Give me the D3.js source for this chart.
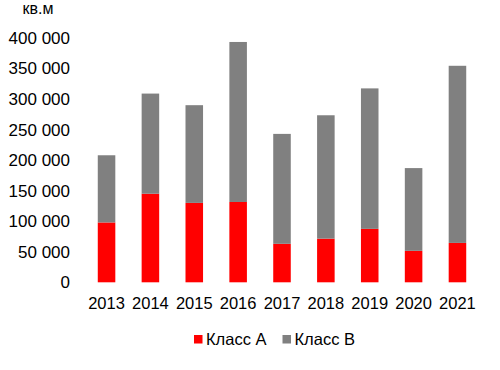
<!DOCTYPE html>
<html>
<head>
<meta charset="utf-8">
<script src="https://cdn.jsdelivr.net/npm/d3@7"></script>
<style>
  body { margin: 0; background: #fff; }
  text { font-family: "Liberation Sans", Arial, sans-serif; fill: #000; }
</style>
</head>
<body>
<script>
const years = ['2013', '2014', '2015', '2016', '2017', '2018', '2019', '2020', '2021'];
const classA = [98000, 145000, 130000, 131500, 63000, 71500, 87500, 51500, 64500];
const classB = [110000, 164000, 160000, 262000, 180000, 202000, 230000, 135500, 290000];
const yTicks = [0, 50000, 100000, 150000, 200000, 250000, 300000, 350000, 400000];
const seriesNames = ['Класс А', 'Класс В'];
const seriesColors = ['#ff0000', '#808080'];

const width = 500;
const height = 370;

const svg = d3.select('body').append('svg').attr('width', width).attr('height', height);

const x = d3.scaleBand().domain(years).range([89, 475]).paddingInner(0.6).paddingOuter(0.2);
const y = d3.scaleLinear().domain([0, 400000]).range([282.3, 38]);

const rows = years.map((yr, i) => ({ year: yr, a: classA[i], b: classB[i] }));
const stacked = d3.stack().keys(['a', 'b'])(rows);

svg.selectAll('g.series').data(stacked).enter().append('g').classed('series', true)
    .attr('fill', (d, i) => seriesColors[i])
    .selectAll('rect').data(d => d).enter().append('rect')
    .attr('x', d => x(d.data.year))
    .attr('width', x.bandwidth())
    .attr('y', d => y(d[1]))
    .attr('height', d => y(d[0]) - y(d[1]));

// y axis labels
const fmt = v => d3.format(',')(v).replace(/,/g, ' ');
svg.selectAll('text.ytick').data(yTicks).enter().append('text').classed('ytick', true)
    .attr('x', 70).attr('y', d => y(d)).attr('dy', '0.35em')
    .style('text-anchor', 'end').style('font-size', '17px')
    .text(fmt);

// x axis labels
svg.selectAll('text.xtick').data(years).enter().append('text').classed('xtick', true)
    .attr('x', d => x(d) + x.bandwidth() / 2).attr('y', 308.5)
    .style('text-anchor', 'middle').style('font-size', '16.5px')
    .text(d => d);

// unit label
svg.append('text').attr('x', 38).attr('y', 14).style('text-anchor', 'middle')
    .style('font-size', '16px').text('кв.м');

// legend
const legendX = [194, 282.5];
const legend = svg.selectAll('g.legend').data(seriesNames).enter().append('g').classed('legend', true)
    .attr('transform', (d, i) => `translate(${legendX[i]},335)`);
legend.append('rect').attr('width', 8.5).attr('height', 8.5).attr('fill', (d, i) => seriesColors[i]);
legend.append('text').attr('x', 12).attr('y', 10).style('font-size', '16.5px').text(d => d);
</script>
</body>
</html>
